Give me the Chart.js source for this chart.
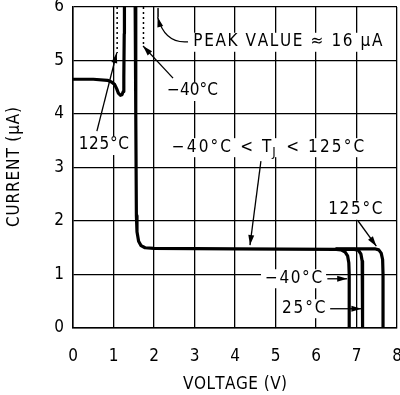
<!DOCTYPE html>
<html><head><meta charset="utf-8">
<script src="https://cdn.jsdelivr.net/npm/chart.js@4/dist/chart.umd.min.js"></script>
<style>html,body{margin:0;padding:0;background:#fff}</style>
</head><body>
<canvas id="c" width="400" height="395" style="width:400px;height:395px;display:block"></canvas>
<script>
const FONT = "'Liberation Sans Narrow', 'DejaVu Sans Condensed', 'Liberation Sans', sans-serif";

// ---- data ----
const xTicks = [0,1,2,3,4,5,6,7,8];
const yTicks = [0,1,2,3,4,5,6];

// common curve: low-voltage region, spike (peak ~16 uA, off scale), plateau, -40°C cut-off
const mainX = [0,0.5,0.85,0.95,1.03,1.08,1.12,1.17,1.21,1.24,1.255,1.265,1.27,1.53,1.535,1.55,1.565,1.58,1.62,1.68,1.78,2.0,4.0,6.5,6.62,6.72,6.78,6.81,6.82,6.82];
const mainY = [4.65,4.65,4.63,4.6,4.55,4.47,4.39,4.35,4.36,4.42,4.7,5.5,9,9,6,4,2.1,1.8,1.62,1.54,1.5,1.49,1.48,1.47,1.46,1.42,1.35,1.22,1.0,0];

const c25X = [6.5,6.95,7.05,7.11,7.14,7.15,7.15];
const c25Y = [1.47,1.47,1.45,1.38,1.25,1.0,0];

const c125X = [6.5,7.45,7.55,7.61,7.645,7.655,7.655];
const c125Y = [1.48,1.48,1.46,1.4,1.28,1.0,0];

// dotted spike traces
const dot125X = [1.09,1.09];   const dot125Y = [6,5.14];
const dotM40X = [1.74,1.74];   const dotM40Y = [6,5.30];
const peakX   = [2.10,2.10];   const peakY   = [5.97,5.82];

const toPts = (xs, ys) => xs.map((x,i)=>({x, y: ys[i]}));

// ---- annotations (data coordinates) ----
const labels = [
  {parts:[{t:"PEAK VALUE ≈ 16 µA"}], x1:2.97, x2:7.64, y:5.35},
  {parts:[{t:"−40°C"}], x1:2.32, x2:3.58, y:4.43},
  {parts:[{t:"125°C"}], x1:0.14, x2:1.38, y:3.42},
  {parts:[{t:"−40°C < T"},{t:"J",sub:true},{t:" < 125°C"}], x1:2.44, x2:7.19, y:3.38},
  {parts:[{t:"125°C"}], x1:6.30, x2:7.64, y:2.21},
  {parts:[{t:"−40°C"}], x1:4.74, x2:6.15, y:0.93},
  {parts:[{t:"25°C"}], x1:5.16, x2:6.23, y:0.37}
];
const arrows = [
  {from:[2.84,5.35], ctrl:[2.27,5.31], to:[2.09,5.81]},
  {from:[2.47,4.67], to:[1.73,5.27]},
  {from:[0.59,3.68], to:[1.08,5.14]},
  {from:[4.64,3.12], to:[4.37,1.55]},
  {from:[7.04,2.00], to:[7.49,1.53]},
  {from:[6.28,0.92], to:[6.77,0.92]},
  {from:[6.35,0.36], to:[7.12,0.36]}
];

const FS = 17;
function partsWidth(ctx, parts){
  let n=0, w=0;
  parts.forEach(p=>{
    ctx.font = (p.sub? 13: FS) + "px " + FONT;
    for (const ch of p.t){ w += ctx.measureText(ch).width; n++; }
  });
  return {w, n};
}
function drawSpaced(ctx, parts, x1, x2, cy){
  const {w, n} = partsWidth(ctx, parts);
  const sp = n>1 ? ((x2-x1) - w)/(n-1) : 0;
  let x = x1;
  ctx.fillStyle = "#000";
  ctx.textBaseline = "middle";
  ctx.textAlign = "left";
  parts.forEach(p=>{
    ctx.font = (p.sub? 13: FS) + "px " + FONT;
    for (const ch of p.t){
      ctx.fillText(ch, x - (p.sub? sp*0.6 : 0), cy + (p.sub? 5: 0));
      x += ctx.measureText(ch).width + sp;
    }
  });
}
function arrowHead(ctx, x, y, ang){
  const L = 10, W = 3;
  ctx.beginPath();
  ctx.moveTo(x, y);
  ctx.lineTo(x - L*Math.cos(ang) + W*Math.sin(ang), y - L*Math.sin(ang) - W*Math.cos(ang));
  ctx.lineTo(x - L*Math.cos(ang) - W*Math.sin(ang), y - L*Math.sin(ang) + W*Math.cos(ang));
  ctx.closePath();
  ctx.fill();
}

const annotPlugin = {
  id: 'annot',
  beforeDatasetsDraw(chart){
    const {ctx, scales:{x, y}} = chart;
    ctx.save();
    labels.forEach(l=>{
      const px1 = x.getPixelForValue(l.x1), px2 = x.getPixelForValue(l.x2), py = y.getPixelForValue(l.y);
      ctx.fillStyle = "#fff";
      ctx.fillRect(px1-4, py-9, px2-px1+8, 19);
      drawSpaced(ctx, l.parts, px1, px2, py);
    });
    ctx.restore();
  },
  afterDatasetsDraw(chart){
    const {ctx, scales:{x, y}} = chart;
    ctx.save();
    ctx.strokeStyle = "#000"; ctx.fillStyle = "#000"; ctx.lineWidth = 1.3;
    arrows.forEach(a=>{
      const fx = x.getPixelForValue(a.from[0]), fy = y.getPixelForValue(a.from[1]);
      const tx = x.getPixelForValue(a.to[0]), ty = y.getPixelForValue(a.to[1]);
      ctx.beginPath();
      ctx.moveTo(fx, fy);
      let ang;
      if (a.ctrl){
        const cx = x.getPixelForValue(a.ctrl[0]), cy = y.getPixelForValue(a.ctrl[1]);
        ctx.quadraticCurveTo(cx, cy, tx, ty);
        ang = Math.atan2(ty-cy, tx-cx);
      } else {
        ctx.lineTo(tx, ty);
        ang = Math.atan2(ty-fy, tx-fx);
      }
      ctx.stroke();
      arrowHead(ctx, tx, ty, ang);
    });
    // axis titles
    drawSpaced(ctx, [{t:"VOLTAGE (V)"}], 183, 287, 385);
    ctx.translate(15, 167);
    ctx.rotate(-Math.PI/2);
    drawSpaced(ctx, [{t:"CURRENT (µA)"}], -60, 60, 0);
    ctx.restore();
  }
};

const lineDs = (xs, ys, w, dash) => ({
  data: toPts(xs, ys), borderColor:"#000", borderWidth:w, borderDash: dash || [],
  pointRadius:0, tension:0, fill:false, borderJoinStyle:'round', borderCapStyle: dash? 'butt':'round'
});

const zeroPad = s => { s.paddingLeft = 0; s.paddingRight = 0; s.paddingTop = 0; s.paddingBottom = 0; };

new Chart(document.getElementById('c'), {
  type: 'line',
  data: { datasets: [
    lineDs(mainX, mainY, 3.2),
    lineDs(c25X, c25Y, 3.2),
    lineDs(c125X, c125Y, 3.2),
    lineDs(dot125X, dot125Y, 1.5, [2,3]),
    lineDs(dotM40X, dotM40Y, 1.5, [2,3]),
    lineDs(peakX, peakY, 1.5)
  ]},
  options: {
    responsive:false, animation:false, devicePixelRatio:1,
    layout:{padding:{top:7,right:3,left:0,bottom:0}},
    plugins:{legend:{display:false}, tooltip:{enabled:false}},
    scales:{
      x:{type:'linear', min:0, max:8,
        afterBuildTicks: s => { s.ticks = xTicks.map(v=>({value:v})); },
        afterFit: s => { s.height = 67; zeroPad(s); },
        ticks:{color:'#000', font:{family:FONT, size:FS}, padding:18, maxRotation:0},
        grid:{color:'#000', lineWidth:1.3, drawTicks:false},
        border:{color:'#000', width:1.5}
      },
      y:{type:'linear', min:0, max:6,
        afterBuildTicks: s => { s.ticks = yTicks.map(v=>({value:v})); },
        afterFit: s => { s.width = 73; zeroPad(s); },
        ticks:{color:'#000', font:{family:FONT, size:FS}, padding:9},
        grid:{color:'#000', lineWidth:1.3, drawTicks:false},
        border:{color:'#000', width:1.5}
      }
    }
  },
  plugins:[annotPlugin]
});
</script>
</body></html>
